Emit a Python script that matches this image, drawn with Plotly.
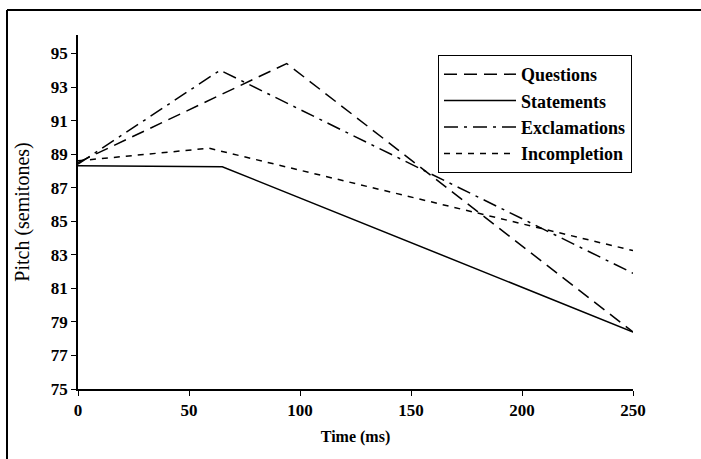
import plotly.graph_objects as go

time_q = [0, 94, 250]
pitch_q = [88.5, 94.4, 78.4]
time_s = [0, 65, 250]
pitch_s = [88.3, 88.25, 78.4]
time_e = [0, 64, 250]
pitch_e = [88.4, 94.0, 81.9]
time_i = [0, 59, 250]
pitch_i = [88.6, 89.35, 83.25]

y_ticks = [75, 77, 79, 81, 83, 85, 87, 89, 91, 93, 95]
x_ticks = [0, 50, 100, 150, 200, 250]

W, H = 701, 459
L, R, T, B = 78, 633, 35, 389

fig = go.Figure()
series = [
    ("Questions", time_q, pitch_q, "13px,7px"),
    ("Statements", time_s, pitch_s, "solid"),
    ("Exclamations", time_e, pitch_e, "14px,6px,3px,6px"),
    ("Incompletion", time_i, pitch_i, "6px,6px"),
]
for name, xs, ys, dash in series:
    fig.add_trace(go.Scatter(x=xs, y=ys, mode="lines", name=name,
                             line=dict(color="black", width=1.5, dash=dash)))

def px(x):
    return (x - L) / (R - L)

def py(y):
    return (B - y) / (B - T)

fig.add_shape(type="line", xref="paper", yref="paper",
              x0=px(7), y0=py(10), x1=px(701), y1=py(10),
              line=dict(color="black", width=2))
fig.add_shape(type="line", xref="paper", yref="paper",
              x0=px(7), y0=py(10), x1=px(7), y1=py(459),
              line=dict(color="black", width=2))

fig.update_layout(
    width=W, height=H,
    margin=dict(l=L, r=W - R, t=T, b=H - B),
    paper_bgcolor="white", plot_bgcolor="white",
    font=dict(family="Liberation Serif", color="black"),
    showlegend=True,
    legend=dict(
        x=px(438), y=py(55), xanchor="left", yanchor="top",
        bordercolor="black", borderwidth=1, bgcolor="white",
        font=dict(family="Liberation Serif", size=18, weight="bold"),
        itemwidth=72, tracegroupgap=0,
    ),
    xaxis=dict(
        range=[0, 250], tickvals=x_ticks, showgrid=False, zeroline=False,
        showline=True, linecolor="black", linewidth=1.5,
        ticks="outside", ticklen=5, tickcolor="black",
        tickfont=dict(size=17, weight="bold"),
        title=dict(text="Time (ms)", font=dict(size=16, weight="bold"), standoff=12),
    ),
    yaxis=dict(
        range=[75, 96.1], tickvals=y_ticks, showgrid=False, zeroline=False,
        showline=True, linecolor="black", linewidth=1.5,
        ticks="outside", ticklen=5, tickcolor="black",
        tickfont=dict(size=17, weight="bold"),
        title=dict(text="Pitch (semitones)", font=dict(size=20), standoff=16),
    ),
)

fig.write_html("out.html", config={"displayModeBar": False},
               post_script="document.body.style.margin='0';")
